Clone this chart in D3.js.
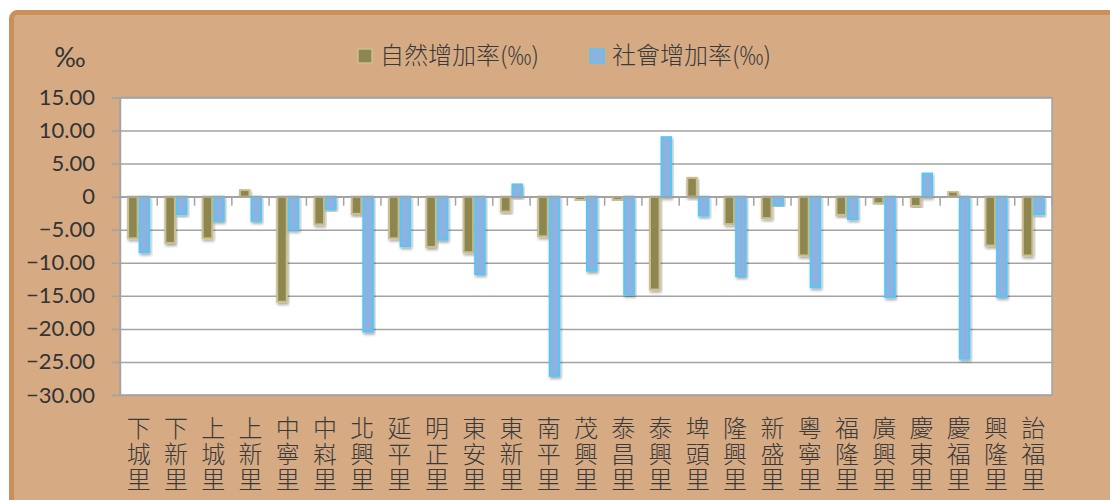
<!DOCTYPE html>
<html>
<head>
<meta charset="utf-8">
<script src="https://cdn.jsdelivr.net/npm/d3@7"></script>
<style>
  body { margin: 0; background: #ffffff; }
  svg { display: block; }
</style>
</head>
<body>
<svg id="chart"></svg>
<script>
// Data
const villages = ["下城里", "下新里", "上城里", "上新里", "中寧里", "中嵙里", "北興里", "延平里", "明正里", "東安里",
  "東新里", "南平里", "茂興里", "泰昌里", "泰興里", "埤頭里", "隆興里", "新盛里", "粵寧里", "福隆里",
  "廣興里", "慶東里", "慶福里", "興隆里", "詒福里"];
const naturalRate = [-6.3, -7.0, -6.3, 1.0, -15.9, -4.2, -2.6, -6.3, -7.6, -8.4,
  -2.25, -6.0, -0.5, -0.5, -14.05, 2.85, -4.15, -3.25, -8.9, -2.75,
  -1.0, -1.4, 0.75, -7.4, -8.9];
const socialRate = [-8.4, -2.65, -3.65, -3.65, -5.0, -1.85, -20.4, -7.5, -6.5, -11.7,
  1.85, -27.1, -11.2, -14.8, 9.0, -2.85, -12.0, -1.25, -13.7, -3.4,
  -15.2, 3.5, -24.5, -15.15, -2.65];
const seriesNames = ["自然增加率(‰)", "社會增加率(‰)"];
const yTicks = [15, 10, 5, 0, -5, -10, -15, -20, -25, -30];

// Configuration
const W = 1110, H = 500;
const plot = { left: 120, right: 1052, top: 97.5, bottom: 395 };
const colors = [
  { fill: "#8d8650", stroke: "#cabf8e" },
  { fill: "#8eb2e0", stroke: "#55c6f6" }
];
const textColor = "#333333";
const gridColor = "#a3a3a3";

const svg = d3.select("#chart").attr("width", W).attr("height", H);

const defs = svg.append("defs");
const shadow = defs.append("filter").attr("id", "shadow")
  .attr("x", "-30%").attr("y", "-10%").attr("width", "160%").attr("height", "130%");
shadow.append("feDropShadow").attr("dx", 1).attr("dy", 2).attr("stdDeviation", 1.5)
  .attr("flood-color", "#000").attr("flood-opacity", 0.35);

// Chart background
svg.append("rect")
  .attr("x", 11.5).attr("y", 12.5).attr("width", W + 20).attr("height", H + 20)
  .attr("rx", 6)
  .attr("fill", "#d6ab84").attr("stroke", "#cb8f5b").attr("stroke-width", 5);

// Scales
const x0 = d3.scaleBand().domain(villages).range([plot.left, plot.right]).padding(0);
const x1 = d3.scaleBand().domain([0, 1])
  .range([x0.bandwidth() * 0.19, x0.bandwidth() * 0.81]).padding(0);
const y = d3.scaleLinear().domain([-30, 15]).range([plot.bottom, plot.top]);

// Plot area
svg.append("rect")
  .attr("x", plot.left).attr("y", plot.top)
  .attr("width", plot.right - plot.left).attr("height", plot.bottom - plot.top)
  .attr("fill", "#ffffff").attr("stroke", gridColor).attr("stroke-width", 1.5);

// Gridlines
svg.append("g")
  .attr("transform", `translate(${plot.left},0)`)
  .call(d3.axisLeft(y).tickValues(yTicks).tickSize(-(plot.right - plot.left)).tickFormat(""))
  .call(g => g.select(".domain").remove())
  .call(g => g.selectAll("line").attr("stroke", gridColor).attr("stroke-width", 1.5));

// Y axis
svg.append("g")
  .attr("transform", `translate(${plot.left},0)`)
  .call(d3.axisLeft(y).tickValues(yTicks).tickSize(8).tickPadding(17)
    .tickFormat(d => d === 0 ? "0" : d3.format(".2f")(d)))
  .call(g => g.select(".domain").attr("stroke", gridColor).attr("stroke-width", 1.5))
  .call(g => g.selectAll("line").attr("stroke", gridColor).attr("stroke-width", 1.5))
  .call(g => g.selectAll("text")
    .attr("fill", textColor)
    .style("font-family", "Lato, 'Liberation Sans', sans-serif")
    .style("font-size", "22px"));

// Unit label
svg.append("text")
  .attr("x", 70).attr("y", 67)
  .attr("text-anchor", "middle")
  .attr("fill", textColor)
  .style("font-family", "Lato, 'Liberation Sans', sans-serif")
  .style("font-size", "27px")
  .text("‰");

// Bars
const groups = svg.append("g").selectAll("g")
  .data(villages.map((v, i) => ({ v, vals: [naturalRate[i], socialRate[i]] })))
  .join("g")
  .attr("transform", d => `translate(${x0(d.v)},0)`);

groups.selectAll("rect")
  .data(d => d.vals.map((val, k) => ({ k, val })))
  .join("rect")
  .attr("x", d => x1(d.k) + 1)
  .attr("width", x1.bandwidth() - 2)
  .attr("y", d => y(Math.max(0, d.val)))
  .attr("height", d => Math.abs(y(d.val) - y(0)))
  .attr("fill", d => colors[d.k].fill)
  .attr("stroke", d => colors[d.k].stroke)
  .attr("stroke-width", 2)
  .attr("filter", "url(#shadow)");

// Zero axis with category ticks
svg.append("line")
  .attr("x1", plot.left).attr("x2", plot.right)
  .attr("y1", y(0)).attr("y2", y(0))
  .attr("stroke", gridColor).attr("stroke-width", 1.5);

svg.append("g").selectAll("line")
  .data(d3.range(1, villages.length + 1))
  .join("line")
  .attr("x1", i => plot.left + i * x0.step())
  .attr("x2", i => plot.left + i * x0.step())
  .attr("y1", y(0)).attr("y2", y(0) + 9)
  .attr("stroke", gridColor).attr("stroke-width", 1.5);

// Category labels (vertical text)
svg.append("g").selectAll("text")
  .data(villages)
  .join("text")
  .attr("x", d => x0(d) + x0.bandwidth() / 2)
  .attr("y", 416)
  .attr("fill", "#3a3a3a")
  .style("writing-mode", "vertical-rl")
  .style("text-orientation", "upright")
  .style("letter-spacing", "1.5px")
  .style("font-family", "'Noto Sans CJK TC', sans-serif")
  .style("font-weight", 300)
  .style("font-size", "24px")
  .text(d => d);

// Legend
const legendItems = [
  { name: seriesNames[0], x: 358 },
  { name: seriesNames[1], x: 590 }
];
const legend = svg.append("g").selectAll("g")
  .data(legendItems)
  .join("g")
  .attr("transform", d => `translate(${d.x},49)`);

legend.append("rect")
  .attr("width", 14).attr("height", 14)
  .attr("fill", (d, i) => colors[i].fill)
  .attr("stroke", (d, i) => colors[i].stroke)
  .attr("stroke-width", 1.5);

legend.append("text")
  .attr("x", 22).attr("y", 15)
  .attr("fill", "#3a3a3a")
  .style("font-family", "'Noto Sans CJK TC', sans-serif")
  .style("font-weight", 300)
  .style("font-size", "24px")
  .text(d => d.name);
</script>
</body>
</html>
